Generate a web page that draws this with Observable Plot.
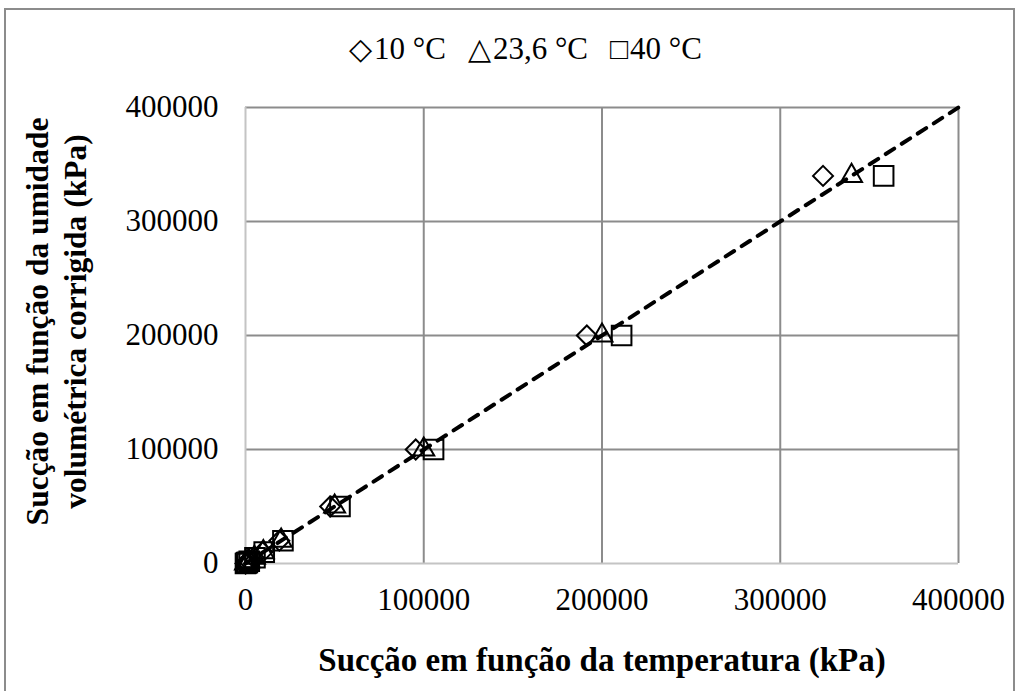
<!DOCTYPE html>
<html>
<head>
<meta charset="utf-8">
<script src="https://cdn.jsdelivr.net/npm/d3@7"></script>
<script src="https://cdn.jsdelivr.net/npm/@observablehq/plot@0.6"></script>
<style>
  body { margin: 0; background: white; width: 1019px; height: 691px; overflow: hidden; position: relative; }
  #legend { position: absolute; left: 16px; top: 31px; width: 1019px; text-align: center;
            font-family: "Liberation Serif", serif; font-size: 31px; color: black; white-space: pre; }
  #legend .sym { font-size: 30px; margin-right: 2px; }
  #legend .item { margin: 0 11px; }
  #chart { position: absolute; left: 0; top: 84px; }
  #frame { position: absolute; left: 4px; top: 8px; width: 1007px; height: 700px;
           border: 2px solid #8c8c8c; border-bottom: none; pointer-events: none; }
</style>
</head>
<body>
<div id="legend"></div>
<div id="chart"></div>
<div id="frame"></div>
<script>
// Data
const series = ["10 °C", "23,6 °C", "40 °C"];
const symbols = ["◇", "△", "□"];
const ySuction = [0, 500, 1000, 2000, 5000, 10000, 20000, 50000, 100000, 200000, 340000];
const x10 = [0, 480, 950, 1900, 4750, 9500, 19000, 47500, 95500, 191500, 324000];
const x236 = [0, 500, 1000, 2000, 5000, 10000, 20000, 50000, 100000, 200000, 340000];
const x40 = [0, 530, 1050, 2100, 5300, 10500, 21000, 53000, 105500, 211000, 358000];
const lineX = [0, 400000];
const lineY = [0, 400000];
const ticks = [0, 100000, 200000, 300000, 400000];
const xLabel = "Sucção em função da temperatura (kPa)";
const yLabel = "Sucção em função da umidade\nvolumétrica corrigida (kPa)";

const seriesX = [x10, x236, x40];
const pts = seriesX.map((xs, i) => xs.map((x, j) => ({x, y: ySuction[j], s: series[i]})));
const line = lineX.map((x, i) => ({x, y: lineY[i]}));

const legend = document.getElementById("legend");
series.forEach((s, i) => {
  const item = document.createElement("span");
  item.className = "item";
  const sym = document.createElement("span");
  sym.className = "sym";
  sym.textContent = symbols[i];
  item.appendChild(sym);
  item.appendChild(document.createTextNode(s));
  legend.appendChild(item);
});

const font = "'Liberation Serif', 'Times New Roman', serif";
const plot = Plot.plot({
  width: 1019,
  height: 607,
  marginLeft: 245,
  marginRight: 61,
  marginTop: 23,
  marginBottom: 128,
  style: { fontFamily: font, fontSize: "31px", color: "black", background: "transparent" },
  x: { domain: [0, 400000] },
  y: { domain: [0, 400000] },
  marks: [
    Plot.gridX(ticks.slice(1), { stroke: "#8c8c8c", strokeOpacity: 1, strokeWidth: 2 }),
    Plot.gridY(ticks.slice(1), { stroke: "#8c8c8c", strokeOpacity: 1, strokeWidth: 2 }),
    Plot.ruleX([0], { stroke: "#c4c4c4", strokeWidth: 2 }),
    Plot.ruleY([0], { stroke: "#c4c4c4", strokeWidth: 2 }),
    Plot.axisX({ ticks, tickFormat: d => String(d), tickSize: 0, tickPadding: 24, label: null }),
    Plot.axisY({ ticks, tickFormat: d => String(d), tickSize: 0, tickPadding: 27, label: null }),
    Plot.line(line, { x: "x", y: "y", stroke: "black", strokeWidth: 4, strokeDasharray: "10,9", strokeLinecap: "round" }),
    Plot.dot(pts[0], { x: "x", y: "y", symbol: () => "diamond2", r: 9, stroke: "black", strokeWidth: 2, fill: "none" }),
    Plot.dot(pts[1], { x: "x", y: "y", symbol: () => "triangle2", r: 10, stroke: "black", strokeWidth: 2, fill: "none" }),
    Plot.dot(pts[2], { x: "x", y: "y", symbol: () => "square2", r: 12.5, stroke: "black", strokeWidth: 2, fill: "none" }),
    Plot.text([xLabel], { text: d => d, frameAnchor: "bottom", dy: 97, lineAnchor: "middle", textAnchor: "middle",
      fontWeight: "bold", fontSize: 33, fill: "black" }),
    Plot.text([yLabel], { text: d => d, frameAnchor: "left", dx: -191, dy: -14, rotate: -90, lineAnchor: "middle", textAnchor: "middle",
      lineHeight: 1.22, fontWeight: "bold", fontSize: 31.5, fill: "black" })
  ]
});
document.getElementById("chart").appendChild(plot);
</script>
</body>
</html>
